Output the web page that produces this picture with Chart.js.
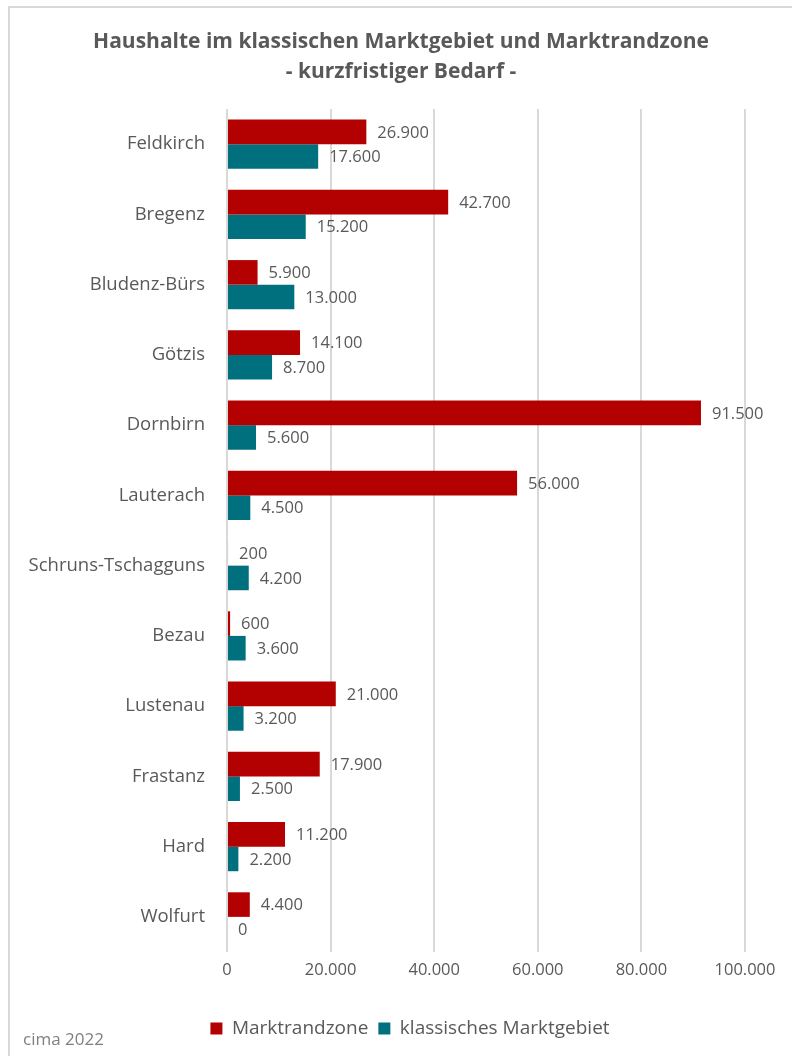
<!DOCTYPE html>
<html>
<head>
<meta charset="utf-8">
<script src="https://cdn.jsdelivr.net/npm/chart.js@4"></script>
<style>
  html, body { margin: 0; padding: 0; background: #fff; width: 792px; height: 1056px; overflow: hidden; }
  #frame { position: absolute; left: 8px; top: 6px; width: 820px; height: 1100px; border: 2px solid #d9d9d9; box-sizing: border-box; }
  #c { position: absolute; left: 0; top: 0; }
</style>
</head>
<body>
<div id="frame"></div>
<canvas id="c" width="802" height="1056"></canvas>
<script>
const categories = ["Feldkirch", "Bregenz", "Bludenz-Bürs", "Götzis", "Dornbirn", "Lauterach", "Schruns-Tschagguns", "Bezau", "Lustenau", "Frastanz", "Hard", "Wolfurt"];
const marktrandzone = [26900, 42700, 5900, 14100, 91500, 56000, 200, 600, 21000, 17900, 11200, 4400];
const klassisch = [17600, 15200, 13000, 8700, 5600, 4500, 4200, 3600, 3200, 2500, 2200, 0];
const xTickValues = [0, 20000, 40000, 60000, 80000, 100000];
const titleLines = ["Haushalte im klassischen Marktgebiet und Marktrandzone", "- kurzfristiger Bedarf -"];
const seriesNames = ["Marktrandzone", "klassisches Marktgebiet"];
const sourceNote = "cima 2022";

const FONT = "'Open Sans', 'Noto Sans', sans-serif";
const GRAY = "#595959";

function fmt(v) {
  return String(Math.round(v)).replace(/\B(?=(\d{3})+(?!\d))/g, ".");
}

const labelPlugin = {
  id: 'valueLabels',
  afterLayout(chart) {
    // centre title and legend like the original (which ignore the axis label column)
    if (chart.titleBlock) { chart.titleBlock.left = 57; chart.titleBlock.right = 745; }
    if (chart.legend) { chart.legend.left = 75; chart.legend.right = 745; }
  },
  afterDatasetsDraw(chart) {
    const ctx = chart.ctx;
    ctx.save();
    ctx.font = "16.5px " + FONT;
    ctx.fillStyle = GRAY;
    ctx.textAlign = 'left';
    ctx.textBaseline = 'middle';
    chart.data.datasets.forEach((ds, di) => {
      const meta = chart.getDatasetMeta(di);
      meta.data.forEach((bar, i) => {
        ctx.fillText(fmt(ds.data[i]), bar.x + 11, bar.y + 1);
      });
    });
    ctx.restore();
  },
  afterDraw(chart) {
    const ctx = chart.ctx;
    ctx.save();
    ctx.font = "17px " + FONT;
    ctx.fillStyle = "#7f7f7f";
    ctx.textAlign = 'left';
    ctx.textBaseline = 'middle';
    ctx.fillText(sourceNote, 23, 1040);
    ctx.restore();
  }
};

new Chart(document.getElementById('c'), {
  type: 'bar',
  data: {
    labels: categories,
    datasets: [
      { label: seriesNames[0], data: marktrandzone, backgroundColor: '#B30000', barPercentage: 1, categoryPercentage: 0.7 },
      { label: seriesNames[1], data: klassisch, backgroundColor: '#00707F', barPercentage: 1, categoryPercentage: 0.7 }
    ]
  },
  options: {
    indexAxis: 'y',
    responsive: false,
    animation: false,
    devicePixelRatio: 1,
    layout: { padding: { left: 0, right: 57, top: 0, bottom: 8 } },
    plugins: {
      title: {
        display: true,
        text: titleLines,
        color: GRAY,
        font: { family: FONT, size: 21, weight: 'bold', lineHeight: 1.43 },
        padding: { top: 27, bottom: 22 }
      },
      legend: {
        position: 'bottom',
        labels: {
          color: GRAY,
          font: { family: FONT, size: 19 },
          boxWidth: 12,
          boxHeight: 12,
          padding: 10
        }
      },
      tooltip: { enabled: false }
    },
    scales: {
      x: {
        min: 0,
        max: 100000,
        afterBuildTicks(scale) { scale.ticks = xTickValues.map(v => ({ value: v })); },
        afterFit(scale) { scale.height = 57; },
        ticks: {
          color: GRAY,
          font: { family: FONT, size: 16.5 },
          padding: 8,
          maxRotation: 0,
          callback: (v) => fmt(v)
        },
        grid: { color: '#d9d9d9', lineWidth: 2, drawTicks: false },
        border: { display: false }
      },
      y: {
        afterFit(scale) { scale.width = 227; },
        ticks: {
          color: GRAY,
          font: { family: FONT, size: 18.5 },
          padding: 14
        },
        grid: { display: false },
        border: { display: false }
      }
    }
  },
  plugins: [labelPlugin]
});
</script>
</body>
</html>
